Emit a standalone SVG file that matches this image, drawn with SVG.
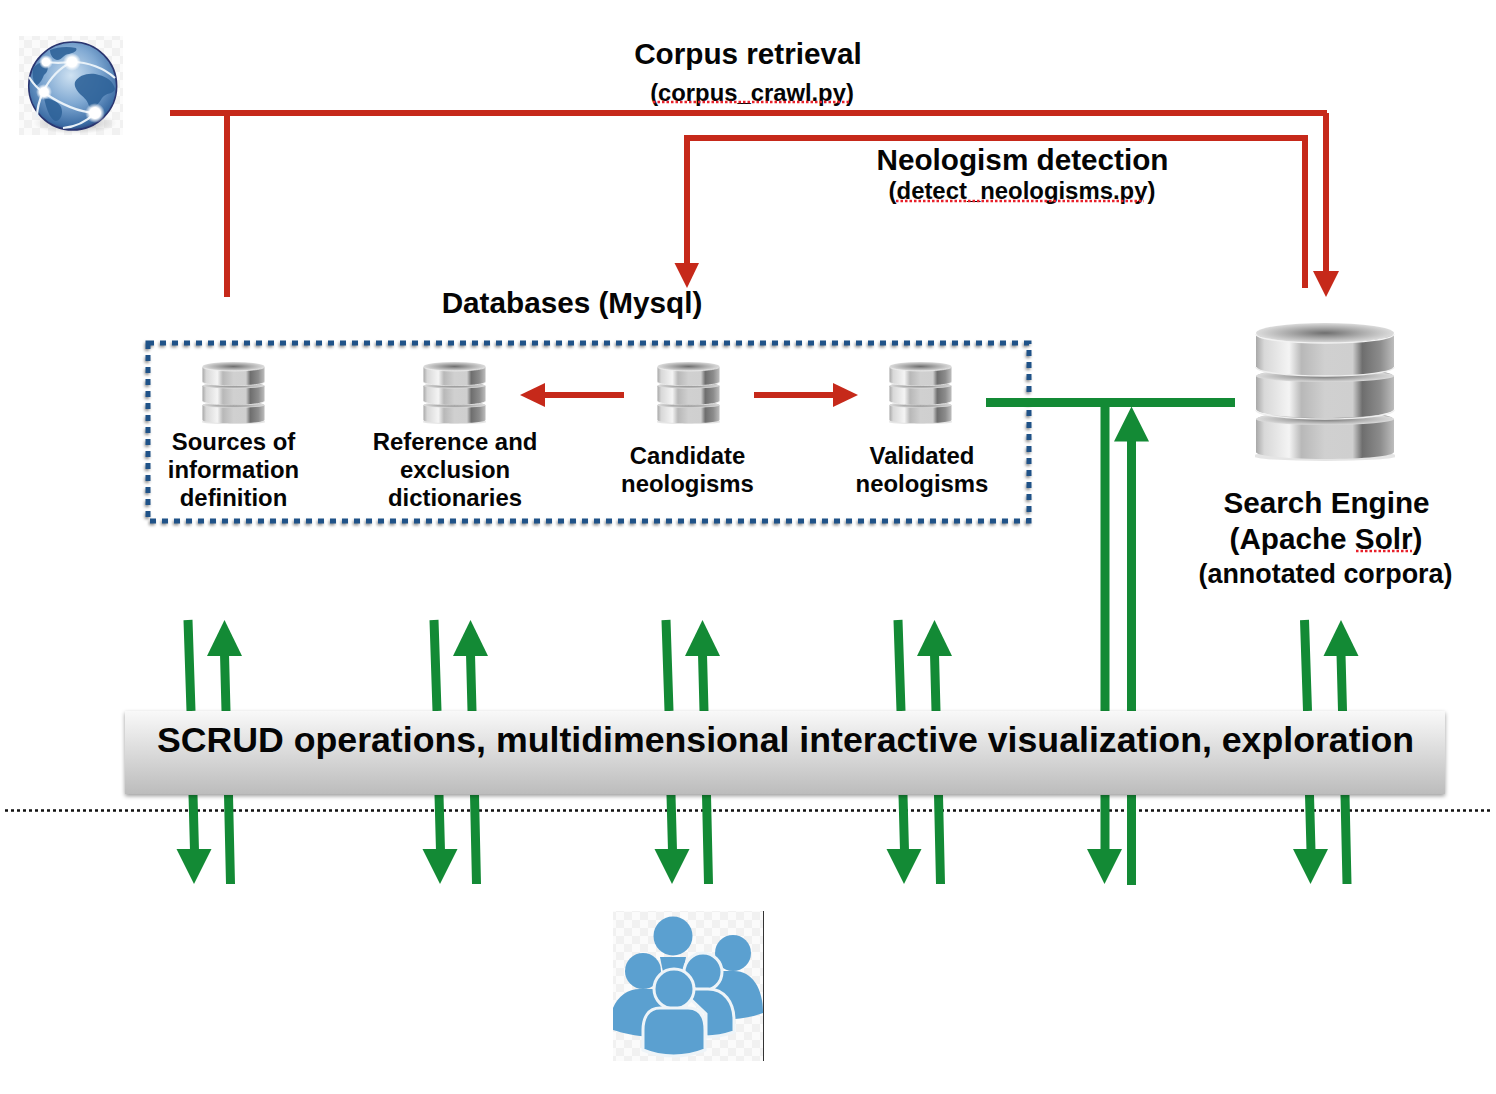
<svg xmlns="http://www.w3.org/2000/svg" width="1496" height="1094" viewBox="0 0 1496 1094">
<style>
text{font-family:"Liberation Sans",Arial,sans-serif;font-weight:bold;fill:#050505;text-anchor:middle}
.t30{font-size:29.700px}.t24{font-size:23.900px}
.red{stroke:#c6291a;stroke-width:6;fill:none}
.redh{fill:#c6291a}
.gr{stroke:#138a35;stroke-width:9;fill:none}
.grh{fill:#138a35}
.sq{stroke:#e8202a;stroke-width:2.500;stroke-dasharray:2.500 2;fill:none}
.person{fill:#5ba0d0}
.cut{fill:#5ba0d0;stroke:#eef4f8;stroke-width:3}
</style>
<defs>
<pattern id="chk" width="16" height="16" patternUnits="userSpaceOnUse"><rect width="16" height="16" fill="#fbfbfb"/><rect width="8" height="8" fill="#f1f1f1"/><rect x="8" y="8" width="8" height="8" fill="#f1f1f1"/></pattern>
<linearGradient id="metal" x1="0" x2="1" y1="0" y2="0"><stop offset="0" stop-color="#a8a8a8"/><stop offset=".06" stop-color="#d8d8d8"/><stop offset=".24" stop-color="#f4f4f4"/><stop offset=".33" stop-color="#b8b8b8"/><stop offset=".5" stop-color="#d0d0d0"/><stop offset=".7" stop-color="#cfcfcf"/><stop offset=".77" stop-color="#6e6e6e"/><stop offset=".9" stop-color="#8c8c8c"/><stop offset="1" stop-color="#bdbdbd"/></linearGradient>
<radialGradient id="disk"><stop offset="0" stop-color="#6f6f6f"/><stop offset=".55" stop-color="#adadad"/><stop offset="1" stop-color="#dcdcdc"/></radialGradient>
<linearGradient id="bar" x1="0" x2="0" y1="0" y2="1"><stop offset="0" stop-color="#f9f9f9"/><stop offset="1" stop-color="#bcbcbc"/></linearGradient>
<radialGradient id="globe" cx=".48" cy=".38" r=".65"><stop offset="0" stop-color="#cfe2f2"/><stop offset=".5" stop-color="#7fa8d2"/><stop offset=".88" stop-color="#3a6ba3"/><stop offset="1" stop-color="#28376f"/></radialGradient>
<radialGradient id="glow"><stop offset="0" stop-color="#fff"/><stop offset=".55" stop-color="#fff"/><stop offset="1" stop-color="#fff" stop-opacity="0"/></radialGradient>
<radialGradient id="shade"><stop offset="0" stop-color="#777" stop-opacity=".7"/><stop offset="1" stop-color="#999" stop-opacity="0"/></radialGradient>
<filter id="sh" x="-5%" y="-10%" width="110%" height="120%"><feDropShadow dx="0" dy="2" stdDeviation="2" flood-color="#000" flood-opacity=".4"/></filter>
<filter id="bl" x="-20%" y="-20%" width="140%" height="140%"><feGaussianBlur stdDeviation="1.500"/></filter>
<symbol id="db" viewBox="0 0 140 140">
<ellipse cx="70" cy="134" rx="72" ry="5" fill="#ccc" opacity=".5"/>
<path d="M1 98C1 92 30 90 70 90s69 2 69 8v32c0 4-30 7-69 7s-69-3-69-7z" fill="url(#metal)"/>
<ellipse cx="70" cy="97" rx="69" ry="6" fill="url(#disk)"/>
<path d="M1 55C1 49 30 47 70 47s69 2 69 8v32c0 5-30 9-69 9s-69-4-69-9z" fill="url(#metal)"/>
<path d="M1 88c0 5 30 9 69 9s69-4 69-9" fill="none" stroke="#eee" stroke-width="1.500"/>
<ellipse cx="70" cy="54" rx="69" ry="6" fill="url(#disk)"/>
<path d="M1 12v33c0 5 30 9 69 9s69-4 69-9V12z" fill="url(#metal)"/>
<path d="M1 45c0 5 30 9 69 9s69-4 69-9" fill="none" stroke="#eee" stroke-width="1.500"/>
<ellipse cx="70" cy="11" rx="69" ry="10" fill="url(#disk)"/>
<path d="M1 12c0 5 30 9 69 9s69-4 69-9" fill="none" stroke="#f2f2f2" stroke-width="1.500"/>
</symbol>
</defs>
<rect width="1496" height="1094" fill="#fff"/>

<g id="boundary"><line x1="5" y1="810.500" x2="1491" y2="810.500" stroke="#111" stroke-width="2.500" stroke-dasharray="3 3"/></g>

<g id="globe-node">
<rect x="19" y="36" width="104" height="99" fill="url(#chk)"/>
<ellipse cx="75" cy="123" rx="42" ry="11" fill="url(#shade)"/>
<circle cx="72.700" cy="86" r="44" fill="url(#globe)" stroke="#2a3570" stroke-width="1.500"/>
<path d="M75 82c4-8 16-10 24-7 8 2 14 6 16 14-2 6-9 3-13 9-4 7-9 12-13 8-2-7-6-9-10-13-3-4-5-7-4-11zM50 50c7-3 17-4 26-2 2 3-3 5-7 6-6 0-6 6-12 6-4-1-7-5-7-10zM33 68c4-4 8-7 13-5 3 4 2 9-2 12-2 5-5 10-9 11-2-6-3-12-2-18zM44 98c7 1 14 3 17 9 3 7-1 15-6 14-5-3-7-9-9-15z" fill="#2f6399" opacity=".9"/>
<path d="M29 77c5 8 9 12 14 15 16 11 34 20 52 21M45 62c8 1 18 1 27 0 16 0 32 6 43 16M43 92c6-12 16-24 29-30M95 113c-8 8-20 14-32 15M43 92c-4 9-6 16-6 25" fill="none" stroke="#e8f1f8" stroke-width="2.200"/>
<circle cx="46" cy="62" r="7" fill="url(#glow)"/><circle cx="72" cy="62" r="9" fill="url(#glow)"/><circle cx="44" cy="92" r="8" fill="url(#glow)"/><circle cx="95" cy="113" r="10" fill="url(#glow)"/>
</g>

<g id="databases">
<rect x="148" y="343" width="881" height="178" fill="none" stroke="#000" stroke-opacity=".45" stroke-width="4.500" stroke-dasharray="6 6" transform="translate(-1 2)" filter="url(#bl)"/>
<rect x="148" y="343" width="881" height="178" fill="none" stroke="#1f5288" stroke-width="5" stroke-dasharray="6 6"/>
<text class="t30" x="572" y="313">Databases (Mysql)</text>
</g>

<g id="connectors">
<path class="red" d="M170 113H1327M227 113V297M1326 113V272"/><path class="redh" d="M1313 271H1339L1326 297Z"/>
<path class="red" d="M1305 288V138H687V265"/><path class="redh" d="M674.500 263H699L687 288Z"/>
<path class="red" d="M624 395H543"/><path class="redh" d="M545 383V407L520 395Z"/>
<path class="red" d="M754 395H835"/><path class="redh" d="M833 383V407L858 395Z"/>
<path class="gr" d="M986 402.500H1235M1105 403V711M1131.500 441V711"/><path class="grh" d="M1114 441.500H1149L1131.500 406.500Z"/>
<g id="pair1"><path class="gr" d="M188 620L191 711M226 711L224.500 654"/><path class="grh" d="M207 656H242L224.500 620Z"/><path class="gr" d="M193 795L194.500 851M228.500 795L230.500 884"/><path class="grh" d="M176.500 849H211.500L194 884Z"/></g>
<use href="#pair1" x="246"/><use href="#pair1" x="478"/><use href="#pair1" x="710"/><use href="#pair1" x="1116.500"/>
<path class="gr" d="M1105 795V851M1131.500 795V885"/><path class="grh" d="M1087 849H1122L1104.500 884Z"/>
</g>

<g id="db-sources"><use href="#db" x="202" y="361" width="63" height="64"/><text class="t24" x="233.500" y="450">Sources of</text><text class="t24" x="233.500" y="478">information</text><text class="t24" x="233.500" y="506">definition</text></g>
<g id="db-reference"><use href="#db" x="423" y="361" width="63" height="64"/><text class="t24" x="455" y="450">Reference and</text><text class="t24" x="455" y="478">exclusion</text><text class="t24" x="455" y="506">dictionaries</text></g>
<g id="db-candidate"><use href="#db" x="657" y="361" width="63" height="64"/><text class="t24" x="687.500" y="464">Candidate</text><text class="t24" x="687.500" y="492">neologisms</text></g>
<g id="db-validated"><use href="#db" x="889" y="361" width="63" height="64"/><text class="t24" x="922" y="464">Validated</text><text class="t24" x="922" y="492">neologisms</text></g>

<g id="search-engine"><use href="#db" x="1255" y="322" width="140" height="140"/>
<text class="t30" x="1326.500" y="512.500">Search Engine</text><text class="t30" x="1326" y="549">(Apache Solr)</text><text x="1325.500" y="582.500" font-size="26.900">(annotated corpora)</text>
<path class="sq" d="M1356 551H1412"/></g>

<g id="label-corpus"><text class="t30" x="748" y="63.500">Corpus retrieval</text><text x="752" y="100.500" font-size="23.800">(corpus_crawl.py)</text><path class="sq" d="M653 102H850"/></g>
<g id="label-neologism"><text class="t30" x="1022.500" y="170">Neologism detection</text><text class="t24" x="1022" y="199">(detect_neologisms.py)</text><path class="sq" d="M896 201H1144"/></g>

<g id="scrud"><rect x="125" y="711" width="1320" height="83" fill="url(#bar)" filter="url(#sh)"/><text x="785.500" y="752" font-size="35.700">SCRUD operations, multidimensional interactive visualization, exploration</text></g>

<g id="users">
<rect x="613" y="911" width="150" height="150" fill="url(#chk)"/>
<circle class="person" cx="733" cy="953" r="18"/>
<path class="person" d="M715 971H734C752 971 763 988 763 1013C755 1016 746 1018 735 1019L715 1000Z"/>
<circle class="person" cx="673" cy="936" r="19.500"/>
<path class="person" d="M660 957H686L683 972H663Z"/>
<circle class="person" cx="643" cy="971" r="18"/>
<path class="person" d="M640 989H664L672 1010L652 1012V1037C635 1036 622 1033 613 1030V1008C618 996 628 989 640 989Z"/>
<circle class="cut" cx="703" cy="972" r="19"/>
<path class="cut" d="M680 989H708C724 989 734 1002 734 1020V1032C725 1035 716 1037 706 1037V1014Z"/>
<circle class="cut" cx="674" cy="989" r="20"/>
<path class="cut" d="M660 1008H688C701 1008 705 1018 705 1030V1050C685 1058 662 1058 643 1050V1030C643 1018 648 1008 660 1008Z"/>
<line x1="763.500" y1="911" x2="763.500" y2="1061" stroke="#333" stroke-width="1"/>
</g>
</svg>
